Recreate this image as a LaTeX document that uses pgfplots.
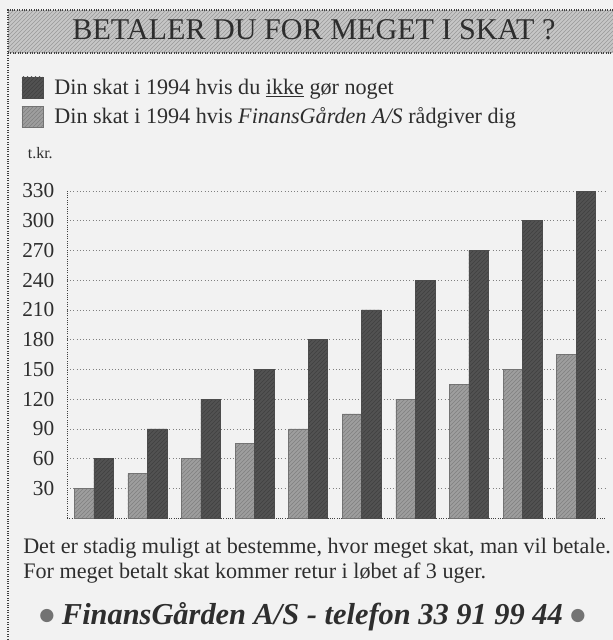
\documentclass[border=0pt]{standalone}
\usepackage{pgfplots}
\pgfplotsset{compat=1.18}
\usepackage{fontspec}
\setmainfont{Liberation Serif}
\newfontfamily\dejavu{DejaVu Sans}
\usetikzlibrary{patterns}
\definecolor{paper}{gray}{0.95}
\definecolor{darkbar}{gray}{0.32}
\definecolor{lightbar}{gray}{0.62}
\definecolor{ink}{gray}{0.18}
\newcommand{\adbullet}{\raisebox{2.5pt}{\dejavu\fontsize{13}{14}\selectfont\color{black!55}●}}
\begin{document}
\begin{tikzpicture}
\begin{scope}[x=0.75pt,y=-0.75pt]
  \fill[paper] (0,0) rectangle (613,640);
  \path[use as bounding box] (0,0) rectangle (613,640);
  % title bar
  \fill[gray!45] (8,10) rectangle (613,53);
  \fill[pattern=north east lines, pattern color=black!40] (8,10) rectangle (613,53);
  \draw[black!75, densely dotted, line width=0.8pt] (613,10) -- (8,10) -- (8,640);
  \draw[black!75, densely dotted, line width=0.8pt] (8,53) -- (613,53);
  \node[anchor=base, inner sep=0pt, text=ink, font=\fontsize{22.6}{24}\selectfont] at (314,39) {BETALER DU FOR MEGET I SKAT ?};
  % y unit
  \node[anchor=base east, inner sep=0pt, text=ink, font=\fontsize{12}{14}\selectfont] at (53,158) {t.kr.};
  % text below chart
  \node[anchor=base west, inner sep=0pt, text=ink, font=\fontsize{16.6}{19}\selectfont] at (23,553) {Det er stadig muligt at bestemme, hvor meget skat, man vil betale.};
  \node[anchor=base west, inner sep=0pt, text=ink, font=\fontsize{16.6}{19}\selectfont] at (23,578) {For meget betalt skat kommer retur i løbet af 3 uger.};
  \node[anchor=base west, inner sep=0pt, text=ink, font=\fontsize{22.8}{26}\selectfont\bfseries\itshape] at (39,624) {\adbullet\ FinansGården A/S - telefon 33 91 99 44\ \adbullet};
\end{scope}
\begin{axis}[
  at={(50.25pt,-388.5pt)}, anchor=south west,
  scale only axis, width=403.5pt, height=245.25pt,
  xmin=-0.5, xmax=9.54, ymin=0, ymax=330,
  axis x line*=bottom, axis y line*=left,
  axis line style={-, draw=black!75, densely dotted, line width=0.7pt},
  xtick=\empty,
  ytick={30,60,...,330},
  ymajorgrids, grid style={dotted, black!50},
  major tick length=0pt,
  yticklabel style={font=\fontsize{16}{18}\selectfont, text=ink, xshift=-6pt},
  /pgf/number format/assume math mode=true,
  ybar=0pt, bar width=14.6pt,
  legend image code/.code={\draw[#1] (0pt,-7.9pt) rectangle (15.75pt,7.9pt);},
  legend style={at={(-0.085,1.352)}, anchor=north west, draw=none, fill=none,
    inner sep=0pt, row sep=4.5pt, font=\fontsize{16.6}{19}\selectfont, text=ink,
    /tikz/every odd column/.append style={column sep=6.5pt}},
  legend cell align=left,
  reverse legend,
]
\addplot[fill=lightbar, draw=black!55, postaction={pattern=north east lines, pattern color=black!50}]
  coordinates {(0,30) (1,45) (2,60) (3,75) (4,90) (5,105) (6,120) (7,135) (8,150) (9,165)};
\addlegendentry{Din skat i 1994 hvis \textit{FinansGården A/S} rådgiver dig}
\addplot[fill=darkbar, draw=black!70, postaction={pattern=north east lines, pattern color=black!75}]
  coordinates {(0,60) (1,90) (2,120) (3,150) (4,180) (5,210) (6,240) (7,270) (8,300) (9,330)};
\addlegendentry{Din skat i 1994 hvis du \underline{ikke} gør noget}
\end{axis}
\end{tikzpicture}
\end{document}
